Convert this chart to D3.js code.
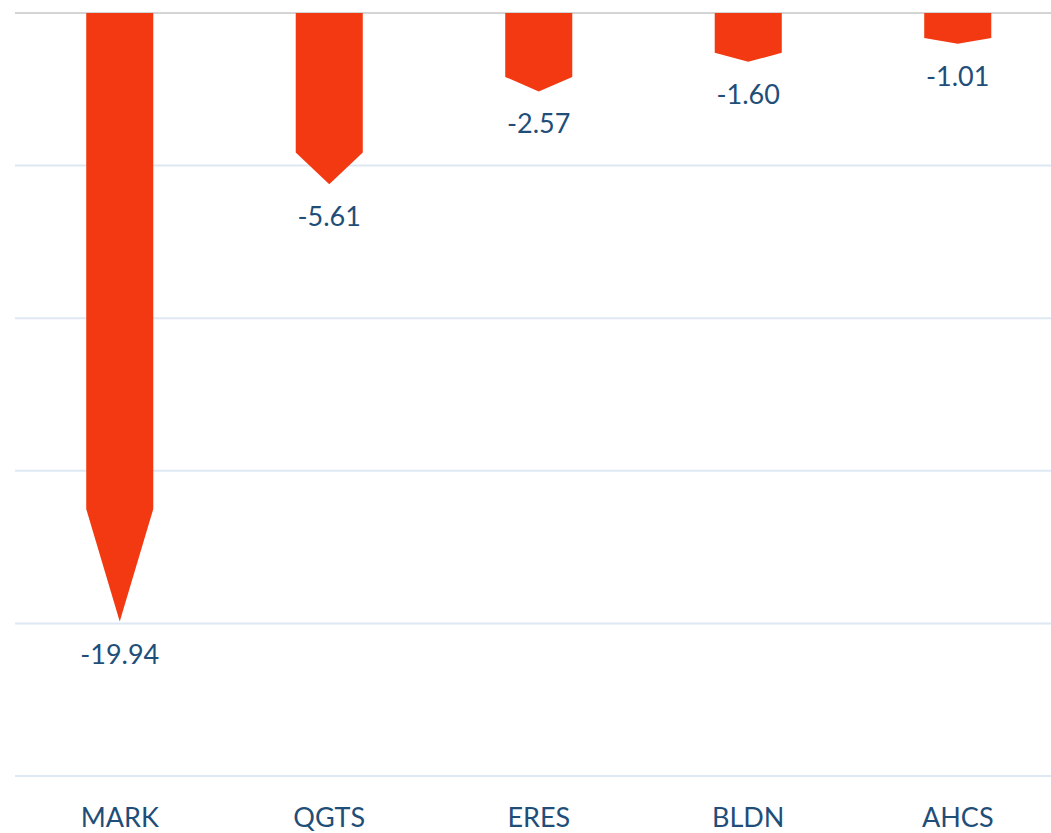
<!DOCTYPE html>
<html>
<head>
<meta charset="utf-8">
<script src="https://cdn.jsdelivr.net/npm/d3@7"></script>
<style>
  body { margin: 0; background: #fff; }
  text { font-family: Lato, "Open Sans", sans-serif; }
</style>
</head>
<body>
<div id="chart"></div>
<script>
const categories = ["MARK", "QGTS", "ERES", "BLDN", "AHCS"];
const values = [-19.94, -5.61, -2.57, -1.60, -1.01];
const yTicks = [0, -5, -10, -15, -20, -25];

const width = 1051, height = 833;
const margin = {top: 13, right: -11.5, bottom: 57, left: 15};

const svg = d3.select("#chart")
  .append("svg")
    .attr("width", width)
    .attr("height", height);

const x = d3.scaleBand()
  .domain(categories)
  .range([margin.left, width - margin.right])
  .paddingInner(0.68)
  .paddingOuter(0.34);

const y = d3.scaleLinear()
  .domain([0, -25])
  .range([margin.top, height - margin.bottom]);

// gridlines
svg.append("g")
  .selectAll("line")
  .data(yTicks)
  .join("line")
    .attr("x1", margin.left)
    .attr("x2", width)
    .attr("y1", d => y(d))
    .attr("y2", d => y(d))
    .attr("stroke", d => d === 0 ? "#d4d4d4" : "#dee8f3")
    .attr("stroke-width", 2);

// arrow shaped bars
svg.append("g")
  .selectAll("path")
  .data(values)
  .join("path")
    .attr("fill", "#f23912")
    .attr("d", function(d, i) {
      const x0 = x(categories[i]), x1 = x0 + x.bandwidth();
      const y0 = y(0), yTip = y(d);
      const yBody = yTip - (yTip - y0) * 0.185;
      return `M${x0},${y0}L${x1},${y0}L${x1},${yBody}L${(x0 + x1) / 2},${yTip}L${x0},${yBody}Z`;
    });

// value labels
svg.append("g")
  .selectAll("text")
  .data(values)
  .join("text")
    .attr("x", (d, i) => x(categories[i]) + x.bandwidth() / 2)
    .attr("y", d => y(d) + 42)
    .attr("text-anchor", "middle")
    .attr("font-size", 27)
    .attr("fill", "#1f4e79")
    .text(d => d.toFixed(2));

// category axis
const xAxis = svg.append("g")
  .attr("transform", `translate(0, ${height - 6})`)
  .call(d3.axisBottom(x).tickSize(0).tickPadding(0));
xAxis.select(".domain").remove();
xAxis.selectAll("text")
  .attr("dy", 0)
  .attr("font-size", 27)
  .attr("fill", "#1f4e79");
</script>
</body>
</html>
